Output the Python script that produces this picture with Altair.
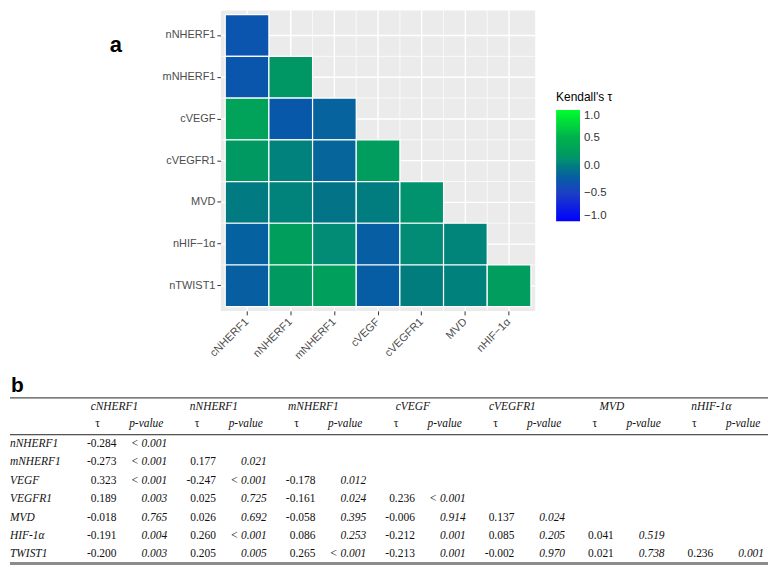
import altair as alt
import pandas as pd

# ---------------- data ----------------
heat_cols = ["cNHERF1", "nNHERF1", "mNHERF1", "cVEGF", "cVEGFR1", "MVD", "nHIF\u22121\u03b1"]
heat_rows = ["nNHERF1", "mNHERF1", "cVEGF", "cVEGFR1", "MVD", "nHIF\u22121\u03b1", "nTWIST1"]

tau_rows = [
    [-0.284],
    [-0.273, 0.177],
    [0.323, -0.247, -0.178],
    [0.189, 0.025, -0.161, 0.236],
    [-0.018, 0.026, -0.058, -0.006, 0.137],
    [-0.191, 0.260, 0.086, -0.212, 0.085, 0.041],
    [-0.200, 0.205, 0.265, -0.213, -0.002, 0.021, 0.236],
]
p_rows = [
    ["< 0.001"],
    ["< 0.001", "0.021"],
    ["< 0.001", "< 0.001", "0.012"],
    ["0.003", "0.725", "0.024", "< 0.001"],
    ["0.765", "0.692", "0.395", "0.914", "0.024"],
    ["0.004", "< 0.001", "0.253", "0.001", "0.205", "0.519"],
    ["0.003", "0.005", "< 0.001", "0.001", "0.970", "0.738", "0.001"],
]
table_cols = ["cNHERF1", "nNHERF1", "mNHERF1", "cVEGF", "cVEGFR1", "MVD", "nHIF-1\u03b1"]
table_rows = ["nNHERF1", "mNHERF1", "VEGF", "VEGFR1", "MVD", "HIF-1\u03b1", "TWIST1"]
legend_ticks = [-1.0, -0.5, 0.0, 0.5, 1.0]

color_domain = [-1, -0.5, -0.25, 0, 0.1, 0.2, 0.5, 1]
color_range = ["#0000ff", "#1c3fc4", "#0858aa", "#017d7e", "#028f74", "#009a60",
               "#00b04e", "#00ff2a"]

SANS = "Liberation Sans"
SERIF = "Liberation Serif"

# ---------------- heatmap ----------------
cells = []
for i, vals in enumerate(tau_rows):
    for j, v in enumerate(vals):
        cells.append({"row": heat_rows[i], "col": heat_cols[j], "tau": v})
df_heat = pd.DataFrame(cells)

x_scale = alt.Scale(type="band", domain=heat_cols, paddingInner=0, paddingOuter=0.1)
y_scale = alt.Scale(type="band", domain=heat_rows, paddingInner=0, paddingOuter=0.1)

df_gx = pd.DataFrame({"col": heat_cols})
df_gy = pd.DataFrame({"row": heat_rows})

grid_major_x = alt.Chart(df_gx).mark_rule(color="white", strokeWidth=1.4).encode(
    x=alt.X("col:N", scale=x_scale, bandPosition=0.5))
grid_minor_x = alt.Chart(df_gx.iloc[1:]).mark_rule(color="white", strokeWidth=0.7).encode(
    x=alt.X("col:N", scale=x_scale, bandPosition=0))
grid_major_y = alt.Chart(df_gy).mark_rule(color="white", strokeWidth=1.4).encode(
    y=alt.Y("row:N", scale=y_scale, bandPosition=0.5))
grid_minor_y = alt.Chart(df_gy.iloc[1:]).mark_rule(color="white", strokeWidth=0.7).encode(
    y=alt.Y("row:N", scale=y_scale, bandPosition=0))

tiles = alt.Chart(df_heat).mark_rect(stroke="white", strokeWidth=1.2).encode(
    x=alt.X("col:N", scale=x_scale, axis=alt.Axis(
        title=None, labelAngle=-45, labelFont=SANS, labelFontSize=11, labelColor="#4d4d4d",
        tickColor="#333333", tickSize=4, labelPadding=5, domain=False, grid=False,
        bandPosition=0.5)),
    y=alt.Y("row:N", scale=y_scale, axis=alt.Axis(
        title="a", titleAngle=0, titleFont=SANS, titleFontSize=22, titleFontWeight="bold",
        titleColor="black", titleX=-106, titleY=34, titleAlign="center", titleBaseline="middle",
        labelFont=SANS, labelFontSize=11, labelColor="#4d4d4d", tickColor="#333333",
        tickSize=4, labelPadding=2, domain=False, grid=False, bandPosition=0.5)),
    color=alt.Color("tau:Q",
                    scale=alt.Scale(domain=color_domain, range=color_range, interpolate="rgb"),
                    legend=alt.Legend(
                        title="Kendall's \u03c4", orient="none", legendX=337, legendY=82,
                        values=legend_ticks, format=".1f", gradientLength=112,
                        gradientThickness=24, direction="vertical", titleFont=SANS,
                        titleFontSize=12, titleFontWeight="normal", titleColor="black",
                        labelFont=SANS, labelFontSize=11.5, labelColor="#333333",
                        labelOffset=4, titlePadding=6, gradientStrokeWidth=0)),
)

heat = alt.layer(grid_minor_x, grid_minor_y, grid_major_x, grid_major_y, tiles).properties(
    width=316, height=302, view=alt.ViewBackground(fill="#ebebeb", stroke=None))

spacer = alt.Chart(pd.DataFrame({"t": [""]})).mark_text().encode(text="t:N").properties(
    width=99, height=10, view=alt.ViewBackground(stroke=None))

top = alt.hconcat(spacer, heat, spacing=0).resolve_scale(color="independent")

# ---------------- table ----------------
ykeys = ["b", "head", "sub"] + table_rows

tx_scale = alt.Scale(type="band", domain=table_cols, paddingInner=0, paddingOuter=0.31)
ty_scale = alt.Scale(type="band", domain=ykeys, paddingInner=0, paddingOuter=0)
tx = alt.X("col:N", scale=tx_scale, axis=None)
ty = alt.Y("row:N", scale=ty_scale, axis=None)

vals = []
for i, row in enumerate(tau_rows):
    for j, v in enumerate(row):
        vals.append({"row": table_rows[i], "col": table_cols[j],
                     "t": f"{v:.3f}", "p": p_rows[i][j]})
df_vals = pd.DataFrame(vals)
df_head = pd.DataFrame({"row": ["head"] * 7, "col": table_cols, "t": table_cols})
df_sub = pd.DataFrame({"row": ["sub"] * 7, "col": table_cols,
                       "t": ["\u03c4"] * 7, "p": ["p-value"] * 7})
df_lab = pd.DataFrame({"row": table_rows, "col": [table_cols[0]] * 7, "t": table_rows})
df_b = pd.DataFrame({"row": ["b"], "col": [table_cols[0]], "t": ["b"]})
df_rule_top = pd.DataFrame({"row": ["head", table_rows[0]]})
df_rule_bot = pd.DataFrame({"row": [table_rows[-1]]})

txt = dict(font=SERIF, fontSize=11.5, baseline="middle", color="#111111")

r_top = alt.Chart(df_rule_top).mark_rule(color="#222222", strokeWidth=1).encode(
    y=alt.Y("row:N", scale=ty_scale, axis=None, bandPosition=0))
r_bot = alt.Chart(df_rule_bot).mark_rule(color="#8c8c8c", strokeWidth=3).encode(
    y=alt.Y("row:N", scale=ty_scale, axis=None, bandPosition=1))

t_tau = alt.Chart(df_vals).mark_text(align="right", dx=26, **txt).encode(x=tx, y=ty, text="t:N")
t_p = alt.Chart(df_vals).mark_text(align="right", dx=77, fontStyle="italic", **txt).encode(
    x=tx, y=ty, text="p:N")
t_head = alt.Chart(df_head).mark_text(align="center", dx=24, fontStyle="italic", **txt).encode(
    x=tx, y=ty, text="t:N")
t_sub_t = alt.Chart(df_sub).mark_text(align="center", dx=7, dy=-2, **txt).encode(
    x=tx, y=ty, text="t:N")
t_sub_p = alt.Chart(df_sub).mark_text(align="center", dx=56, dy=-2, fontStyle="italic",
                                      **txt).encode(x=tx, y=ty, text="p:N")
t_lab = alt.Chart(df_lab).mark_text(align="left", dx=-81, fontStyle="italic", **txt).encode(
    x=tx, y=ty, text="t:N")
t_b = alt.Chart(df_b).mark_text(align="left", dx=-80, dy=-3, font=SANS, fontSize=21,
                                fontWeight="bold", baseline="middle", color="black").encode(
    x=tx, y=ty, text="t:N")

table = alt.layer(r_top, r_bot, t_tau, t_p, t_head, t_sub_t, t_sub_p, t_lab, t_b).properties(
    width=762, height=185, view=alt.ViewBackground(stroke=None))

chart = alt.vconcat(top, table, spacing=13).resolve_scale(color="independent").properties(
    padding=0, background="white")

chart.save("out.html", embed_options={"renderer": "svg", "actions": False})
